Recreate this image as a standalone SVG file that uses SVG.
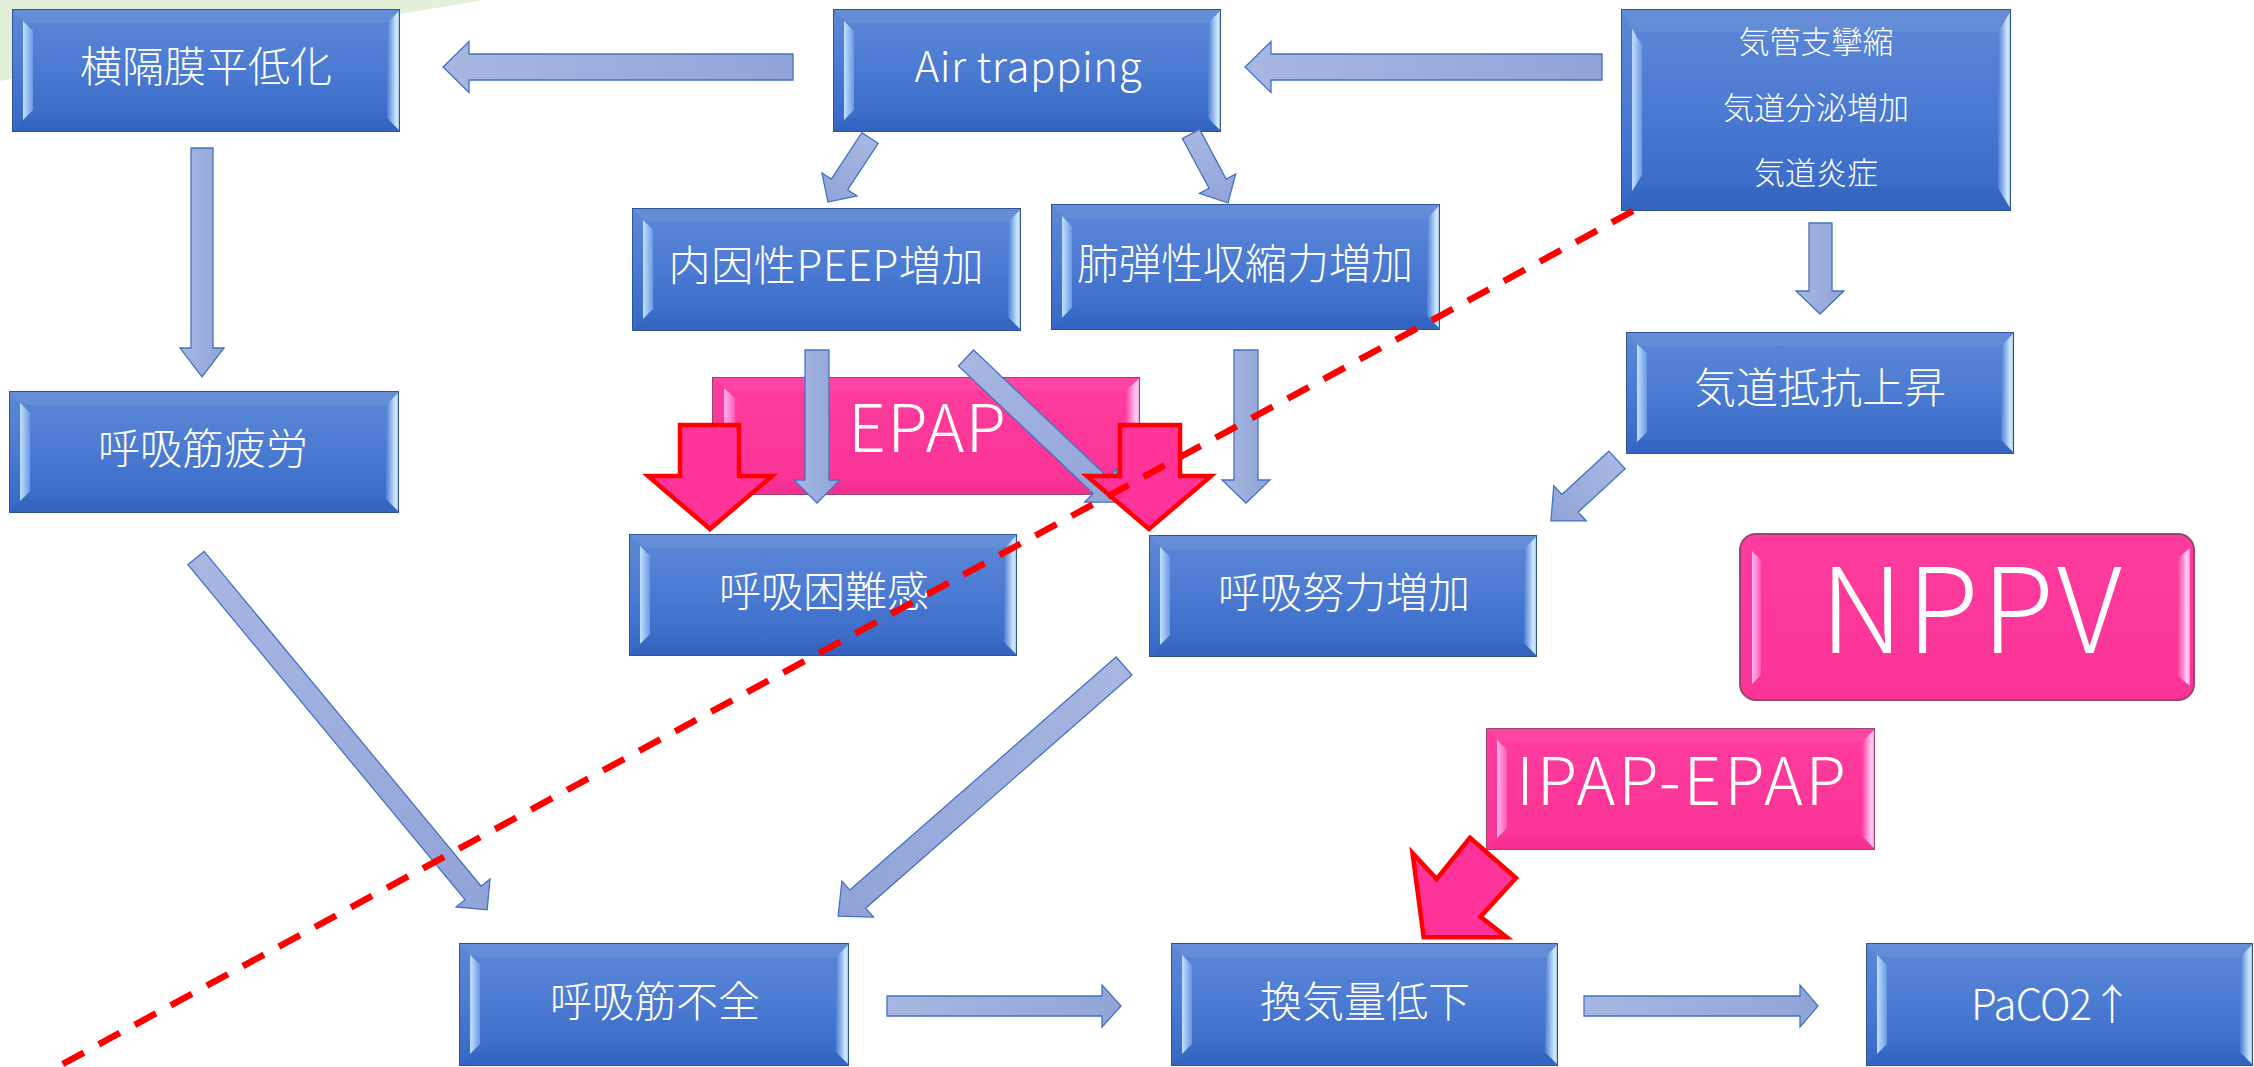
<svg xmlns="http://www.w3.org/2000/svg" xmlns:xlink="http://www.w3.org/1999/xlink" width="2254" height="1067" viewBox="0 0 2254 1067">
  <style>
    .t { fill: #ffffff; font-family: "Noto Sans CJK JP Light", "Noto Sans CJK JP DemiLight", "Noto Sans CJK JP", "Noto Sans", "Liberation Sans", sans-serif; font-weight: 300; text-anchor: middle; }
    .f42 { font-size: 42px; }
    .f31 { font-size: 31px; }
    .arrow { fill: url(#gArrow); stroke: #4472c4; stroke-width: 1.3; stroke-linejoin: miter; }
    .push { fill: #ff3399; stroke: #ff0000; stroke-width: 4.5; stroke-linejoin: miter; }
    .cut { fill: none; stroke: #ff0000; stroke-width: 6.5; stroke-dasharray: 24 17; }
  </style>
  <defs>
    <linearGradient id="gBlue" x1="0" y1="0" x2="0" y2="1">
      <stop offset="0" stop-color="#5e88d6"/>
      <stop offset="0.5" stop-color="#4a7ad2"/>
      <stop offset="1" stop-color="#3567c4"/>
    </linearGradient>
    <linearGradient id="gBlueL" x1="0" y1="0" x2="1" y2="0">
      <stop offset="0" stop-color="#c2e2ff"/>
      <stop offset="1" stop-color="#6a98e4"/>
    </linearGradient>
    <linearGradient id="gBlueR" x1="0" y1="0" x2="1" y2="0">
      <stop offset="0" stop-color="#4d7cd3"/>
      <stop offset="0.75" stop-color="#d3ecff"/>
      <stop offset="1" stop-color="#8fb6ee"/>
    </linearGradient>
    <linearGradient id="gPink" x1="0" y1="0" x2="0" y2="1">
      <stop offset="0" stop-color="#ff3c9e"/>
      <stop offset="1" stop-color="#fb3397"/>
    </linearGradient>
    <linearGradient id="gPinkL" x1="0" y1="0" x2="1" y2="0">
      <stop offset="0" stop-color="#ffb6f2"/>
      <stop offset="1" stop-color="#ff56b2"/>
    </linearGradient>
    <linearGradient id="gPinkR" x1="0" y1="0" x2="1" y2="0">
      <stop offset="0" stop-color="#ff3d9f"/>
      <stop offset="0.75" stop-color="#ffd0f6"/>
      <stop offset="1" stop-color="#ff8fd4"/>
    </linearGradient>
    <linearGradient id="gArrow" x1="0" y1="0" x2="1" y2="0">
      <stop offset="0" stop-color="#a7b7e1"/>
      <stop offset="1" stop-color="#90a4d7"/>
    </linearGradient>

    <!-- bevelled blue block, stretched to each node's size -->
    <symbol id="bevBlue" viewBox="0 0 388 123" preserveAspectRatio="none">
      <rect x="0" y="0" width="388" height="123" fill="url(#gBlue)"/>
      <polygon points="0,0 388,0 375,14 13,14" fill="#ffffff" opacity="0.06"/>
      <polygon points="13,109 375,109 388,123 0,123" fill="#1a3c88" opacity="0.08"/>
      <polygon points="11,12 21,22 21,101 11,111" fill="url(#gBlueL)"/>
      <polygon points="375,14 388,1 388,122 375,109" fill="url(#gBlueR)"/>
      <rect x="0" y="0" width="388" height="123" fill="none" stroke="#2f5496" stroke-width="2" vector-effect="non-scaling-stroke"/>
    </symbol>

    <!-- bevelled pink block -->
    <symbol id="bevPink" viewBox="0 0 388 123" preserveAspectRatio="none">
      <rect x="0" y="0" width="388" height="123" fill="url(#gPink)"/>
      <polygon points="0,0 388,0 375,14 13,14" fill="#ffffff" opacity="0.05"/>
      <polygon points="13,109 375,109 388,123 0,123" fill="#c0106a" opacity="0.08"/>
      <polygon points="11,12 21,22 21,101 11,111" fill="url(#gPinkL)"/>
      <polygon points="375,14 388,1 388,122 375,109" fill="url(#gPinkR)"/>
      <rect x="0" y="0" width="388" height="123" fill="none" stroke="#9a4572" stroke-width="2" vector-effect="non-scaling-stroke"/>
    </symbol>
  </defs>

  <rect x="0" y="0" width="2254" height="1067" fill="#ffffff"/>

  <!-- light green backdrop in the upper-left corner -->
  <polygon points="0,0 484,0 0,81" fill="#e2efd9"/>

  <!-- nodes -->
  <g id="node-diaphragm">
    <use href="#bevBlue" x="12" y="9" width="388" height="123"/>
    <text class="t f42" x="206" y="82">横隔膜平低化</text>
  </g>
  <g id="node-air-trapping">
    <use href="#bevBlue" x="833" y="9" width="388" height="123"/>
    <text class="t f42" x="1028" y="82" textLength="227">Air trapping</text>
  </g>
  <g id="node-airway-causes">
    <use href="#bevBlue" x="1621" y="9" width="390" height="202"/>
    <text class="t f31" x="1816" y="53">気管支攣縮</text>
    <text class="t f31" x="1816" y="119">気道分泌増加</text>
    <text class="t f31" x="1816" y="184">気道炎症</text>
  </g>
  <g id="node-intrinsic-peep">
    <use href="#bevBlue" x="632" y="208" width="389" height="123"/>
    <text class="t f42" x="826" y="281" textLength="315">内因性PEEP増加</text>
  </g>
  <g id="node-elastic-recoil">
    <use href="#bevBlue" x="1051" y="204" width="389" height="126"/>
    <text class="t f42" x="1245" y="279">肺弾性収縮力増加</text>
  </g>
  <g id="node-airway-resistance">
    <use href="#bevBlue" x="1626" y="332" width="388" height="122"/>
    <text class="t f42" x="1820" y="403">気道抵抗上昇</text>
  </g>
  <g id="node-muscle-fatigue">
    <use href="#bevBlue" x="9" y="391" width="390" height="122"/>
    <text class="t f42" x="203" y="464">呼吸筋疲労</text>
  </g>
  <g id="node-dyspnea">
    <use href="#bevBlue" x="629" y="534" width="388" height="122"/>
    <text class="t f42" x="824" y="607">呼吸困難感</text>
  </g>
  <g id="node-work-of-breathing">
    <use href="#bevBlue" x="1149" y="535" width="388" height="122"/>
    <text class="t f42" x="1344" y="608">呼吸努力増加</text>
  </g>
  <g id="node-muscle-failure">
    <use href="#bevBlue" x="459" y="943" width="390" height="123"/>
    <text class="t f42" x="655" y="1017">呼吸筋不全</text>
  </g>
  <g id="node-hypoventilation">
    <use href="#bevBlue" x="1171" y="943" width="387" height="123"/>
    <text class="t f42" x="1365" y="1017">換気量低下</text>
  </g>
  <g id="node-paco2">
    <use href="#bevBlue" x="1866" y="943" width="387" height="123"/>
    <text class="t f42" x="2052" y="1020" textLength="162">PaCO2↑</text>
  </g>
  <g id="node-epap">
    <use href="#bevPink" x="712" y="377" width="428" height="118"/>
    <text class="t" x="927" y="452" font-size="66" textLength="158">EPAP</text>
  </g>
  <g id="node-nppv">
    <rect x="1740" y="534" width="454" height="166" rx="16" fill="url(#gPink)"/>
    <polygon points="1752,551 1761,560 1761,675 1752,684" fill="url(#gPinkL)"/>
    <polygon points="2178,558 2190,548 2190,686 2178,676" fill="url(#gPinkR)"/>
    <rect x="1740" y="534" width="454" height="166" rx="16" fill="none" stroke="#9a4572" stroke-width="2"/>
    <text class="t" x="1971" y="653" font-size="118" textLength="302">NPPV</text>
  </g>
  <g id="node-ipap-epap">
    <use href="#bevPink" x="1486" y="728" width="389" height="122"/>
    <text class="t" x="1681" y="805" font-size="66" textLength="330">IPAP-EPAP</text>
  </g>

  <!-- connectors -->
  <g id="connectors">
    <polygon class="arrow" points="1602,54 1271,54 1271,41.5 1245,67 1271,92.5 1271,80 1602,80"/>
    <polygon class="arrow" points="793,54 469,54 469,41.5 443,67 469,92.5 469,80 793,80"/>
    <polygon class="arrow" points="191,148 213,148 213,348 224,348 202,377 180,348 191,348"/>
    <polygon class="arrow" points="1809,223 1832,223 1832,291 1844,291 1820,314 1796,291 1809,291"/>
    <polygon class="arrow" transform="translate(870,138) rotate(123.3)" points="0,-9.75 55.6,-9.75 55.6,-21 76.6,0 55.6,21 55.6,9.75 0,9.75"/>
    <polygon class="arrow" transform="translate(1191,134) rotate(61.8)" points="0,-9.75 56.3,-9.75 56.3,-20.5 78.3,0 56.3,20.5 56.3,9.75 0,9.75"/>
    <polygon class="arrow" points="805,350 829,350 829,480 840,480 817,503 794,480 805,480"/>
    <polygon class="arrow" points="1234,350 1258,350 1258,480 1270,480 1246,503 1222,480 1234,480"/>
    <polygon class="arrow" transform="translate(966,358) rotate(43.45)" points="0,-11 185.4,-11 185.4,-23 209.4,0 185.4,23 185.4,11 0,11"/>
    <polygon class="arrow" transform="translate(196,558) rotate(50.4)" points="0,-10.5 434.7,-10.5 434.7,-22 456.7,0 434.7,22 434.7,10.5 0,10.5"/>
    <polygon class="arrow" transform="translate(1124,666) rotate(138.8)" points="0,-12 353.9,-12 353.9,-24 379.9,0 353.9,24 353.9,12 0,12"/>
    <polygon class="arrow" transform="translate(1617,460) rotate(137.3)" points="0,-12 63.9,-12 63.9,-24 89.9,0 63.9,24 63.9,12 0,12"/>
    <polygon class="arrow" points="887,996 1102,996 1102,985 1121,1006 1102,1027 1102,1016 887,1016"/>
    <polygon class="arrow" points="1584,996 1800,996 1800,985 1818,1006 1800,1027 1800,1016 1584,1016"/>
  </g>

  <!-- pressure-support block arrows -->
  <g id="support-arrows">
    <polygon class="push" points="680,425 739,425 739,476 772,476 710,529 648,476 680,476"/>
    <polygon class="push" points="1120,425 1180,425 1180,476 1211,476 1149,529 1087,476 1120,476"/>
    <polygon class="push" points="1412.5,853 1436.7,879 1470,837.7 1516,878 1480.5,916.7 1506.8,937.3 1423.7,937.3"/>
  </g>

  <!-- dashed dividing line -->
  <g id="divider">
    <line class="cut" x1="1633" y1="211" x2="48" y2="1072"/>
  </g>
</svg>
